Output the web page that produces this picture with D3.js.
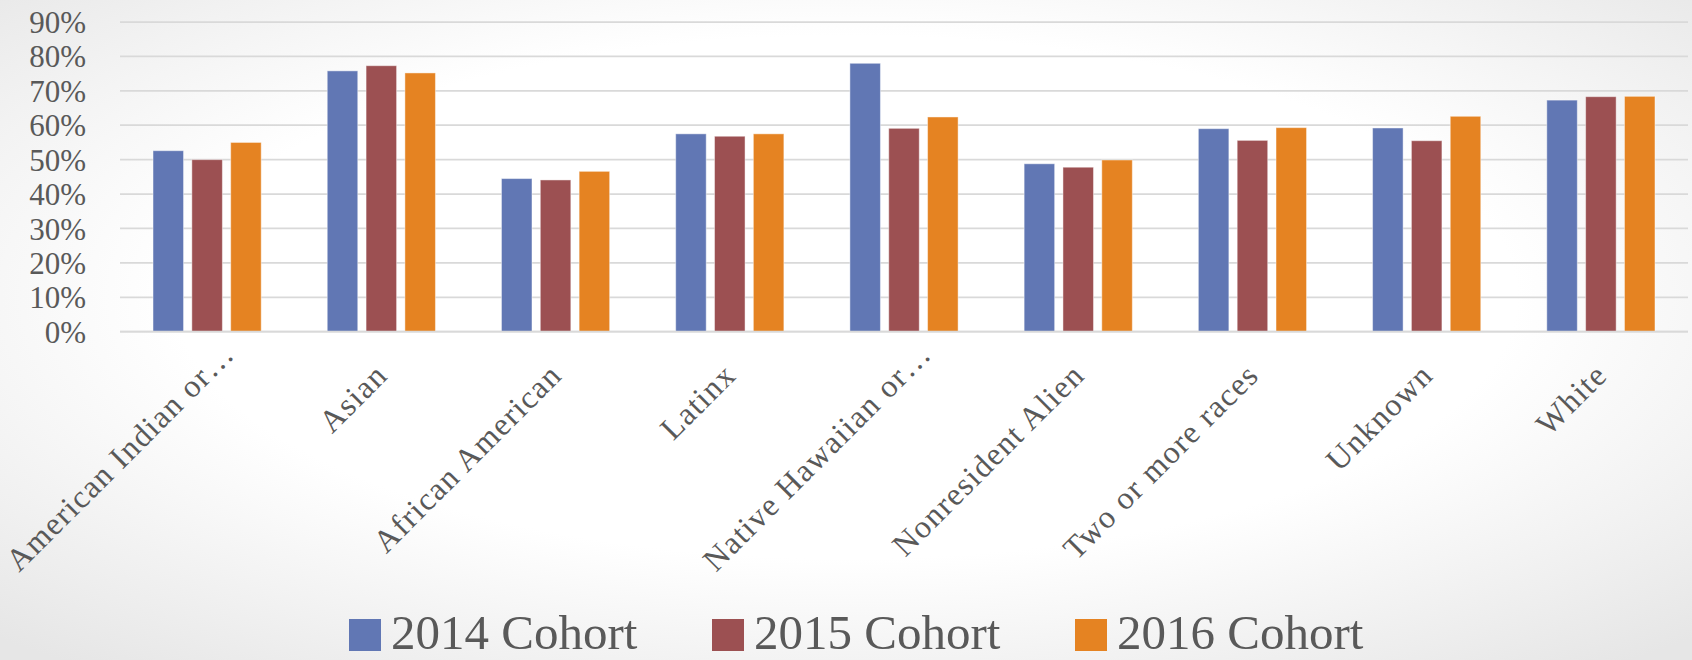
<!DOCTYPE html>
<html>
<head>
<meta charset="utf-8">
<script src="https://cdn.jsdelivr.net/npm/d3@7"></script>
<style>
  html, body { margin: 0; padding: 0; background: #fff; }
  svg { display: block; }
  text { font-family: "Liberation Serif", "Times New Roman", serif; fill: #595959; }
</style>
</head>
<body>
<svg id="chart" width="1692" height="660"></svg>
<script>
// ---- data ----
const categories = ["American Indian or\u2026", "Asian", "African American", "Latinx",
  "Native Hawaiian or\u2026", "Nonresident Alien", "Two or more races", "Unknown", "White"];
const seriesNames = ["2014 Cohort", "2015 Cohort", "2016 Cohort"];
const cohort2014 = [0.526, 0.758, 0.445, 0.575, 0.780, 0.488, 0.590, 0.592, 0.673];
const cohort2015 = [0.500, 0.773, 0.441, 0.568, 0.591, 0.478, 0.556, 0.555, 0.683];
const cohort2016 = [0.550, 0.752, 0.466, 0.575, 0.624, 0.499, 0.593, 0.626, 0.684];
const yTicks = [0, 0.1, 0.2, 0.3, 0.4, 0.5, 0.6, 0.7, 0.8, 0.9];
const colors = ["#6177B4", "#9C5052", "#E58322"];

const seriesValues = [cohort2014, cohort2015, cohort2016];

const W = 1692, H = 660;
const svg = d3.select("#chart");

// background gradient
const defs = svg.append("defs");
const rg = defs.append("radialGradient").attr("id", "bg")
  .attr("cx", "50%").attr("cy", "45%").attr("r", "72%");
rg.append("stop").attr("offset", "0").attr("stop-color", "#ffffff");
rg.append("stop").attr("offset", "0.55").attr("stop-color", "#ffffff");
rg.append("stop").attr("offset", "1").attr("stop-color", "#e6e6e6");
svg.append("rect").attr("width", W).attr("height", H).attr("fill", "url(#bg)");

const plotLeft = 120, plotRight = 1688, plotTop = 22, plotBottom = 331.7;

const x0 = d3.scaleBand().domain(categories).range([plotLeft, plotRight])
  .paddingInner(0.379).paddingOuter(0.1895);
const x1 = d3.scaleBand().domain(seriesNames).range([0, x0.bandwidth()])
  .paddingInner(0.214).paddingOuter(0);
const y = d3.scaleLinear().domain([0, 0.9]).range([plotBottom, plotTop]);

// gridlines
svg.append("g").selectAll("line").data(yTicks).join("line")
  .attr("x1", plotLeft).attr("x2", plotRight)
  .attr("y1", d => y(d)).attr("y2", d => y(d))
  .attr("stroke", "#d9d9d9").attr("stroke-width", 1.75);

// y axis labels
const yAxis = d3.axisLeft(y).tickValues(yTicks).tickFormat(d3.format(".0%")).tickSize(0).tickPadding(0);
const gy = svg.append("g").attr("transform", `translate(86,0)`).call(yAxis);
gy.select(".domain").remove();
gy.selectAll("text").attr("font-size", 31).attr("fill", "#595959")
  .attr("font-family", "Liberation Serif, serif").attr("dy", "0.34em");

// bars
const groups = svg.append("g").selectAll("g").data(categories).join("g")
  .attr("transform", d => `translate(${x0(d)},0)`);
groups.selectAll("rect")
  .data((c, i) => seriesNames.map((s, k) => ({ s, k, v: seriesValues[k][i] })))
  .join("rect")
  .attr("x", d => x1(d.s))
  .attr("width", x1.bandwidth())
  .attr("y", d => y(d.v))
  .attr("height", d => plotBottom - y(d.v))
  .attr("fill", d => colors[d.k])
  .attr("stroke", "rgba(255,255,255,0.45)").attr("stroke-width", 1);

// baseline
svg.append("line").attr("x1", plotLeft).attr("x2", plotRight)
  .attr("y1", plotBottom).attr("y2", plotBottom)
  .attr("stroke", "#d9d9d9").attr("stroke-width", 1.75);

// category labels, rotated -45
const xAxis = d3.axisBottom(x0).tickSize(0).tickPadding(0);
const gx = svg.append("g").call(xAxis);
gx.select(".domain").remove();
gx.selectAll(".tick").attr("transform", d => `translate(${x0(d) + x0.bandwidth() / 2 + 8},377)`);
gx.selectAll("text")
  .attr("font-size", 32).attr("fill", "#595959").attr("font-family", "Liberation Serif, serif")
  .attr("letter-spacing", 1.3)
  .attr("y", 0).attr("dy", 0)
  .attr("text-anchor", "end")
  .attr("dx", d => d.endsWith("\u2026") ? 30 : 0)
  .attr("transform", "rotate(-45)");

// legend
const legendX = [349, 712, 1075];
const legend = svg.append("g").selectAll("g").data(seriesNames).join("g")
  .attr("transform", (d, i) => `translate(${legendX[i]},619)`);
legend.append("rect").attr("width", 32).attr("height", 32).attr("fill", (d, i) => colors[i]);
legend.append("text").attr("x", 42).attr("y", 30).attr("font-size", 49).attr("fill", "#595959")
  .text(d => d);
</script>
</body>
</html>
